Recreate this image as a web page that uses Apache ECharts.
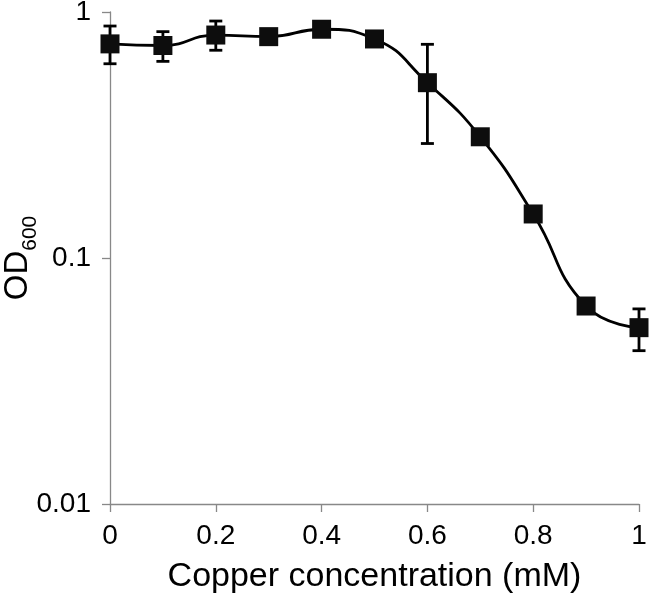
<!DOCTYPE html>
<html>
<head>
<meta charset="utf-8">
<script src="https://cdn.jsdelivr.net/npm/echarts@6/dist/echarts.min.js"></script>
<style>html,body{margin:0;padding:0;background:#fff;}#c{width:650px;height:599px;}</style>
</head>
<body>
<div id="c"></div>
<script>
var copper = [0, 0.1, 0.2, 0.3, 0.4, 0.5, 0.6, 0.7, 0.8, 0.9, 1.0];
var od600 = [0.742, 0.731, 0.806, 0.794, 0.851, 0.777, 0.516, 0.311, 0.151, 0.0638, 0.0521];
var errLow = [0.616, 0.630, 0.699, 0.760, 0.820, 0.750, 0.292, 0.300, 0.145, 0.061, 0.042];
var errHigh = [0.877, 0.832, 0.919, 0.830, 0.880, 0.805, 0.739, 0.322, 0.157, 0.0665, 0.0621];
var xTicks = [0, 0.2, 0.4, 0.6, 0.8, 1];
var yTicks = [0.01, 0.1, 1];

var FONT = 'Liberation Sans, Arial, sans-serif';
var lineData = copper.map(function (x, i) { return [x, od600[i]]; });
var errData = copper.map(function (x, i) { return [x, errLow[i], errHigh[i]]; });

var chart = echarts.init(document.getElementById('c'));
chart.setOption({
  backgroundColor: '#fff',
  animation: false,
  grid: { left: 110, right: 11, top: 12, bottom: 95, containLabel: false, outerBoundsMode: 'none' },
  xAxis: {
    type: 'value', min: 0, max: 1, interval: 0.2,
    name: 'Copper concentration (mM)', nameLocation: 'middle', nameGap: 56, nameMoveOverlap: false,
    nameTextStyle: { fontSize: 34, color: '#000', fontFamily: FONT },
    axisLine: { show: true, lineStyle: { color: '#888', width: 1.3 } },
    axisTick: { show: true, inside: false, length: 8, lineStyle: { color: '#888', width: 1.3 } },
    axisLabel: {
      fontSize: 28, color: '#000', fontFamily: FONT, margin: 18,
      formatter: function (v) { return xTicks.indexOf(Math.round(v * 10) / 10) >= 0 ? String(Math.round(v * 10) / 10) : ''; }
    },
    splitLine: { show: false }
  },
  yAxis: {
    type: 'log', logBase: 10, min: 0.01, max: 1,
    name: '{a|OD}{b|600}', nameLocation: 'middle', nameGap: 69, nameMoveOverlap: false,
    nameTextStyle: {
      fontFamily: FONT, color: '#000',
      rich: {
        a: { fontSize: 33, lineHeight: 46, fontFamily: FONT, color: '#000' },
        b: { fontSize: 21, lineHeight: 21, verticalAlign: 'bottom', fontFamily: FONT, color: '#000' }
      }
    },
    axisLine: { show: true, lineStyle: { color: '#888', width: 1.3 } },
    axisTick: { show: true, inside: false, length: 8, lineStyle: { color: '#888', width: 1.3 } },
    minorTick: { show: false },
    axisLabel: {
      fontSize: 28, color: '#000', fontFamily: FONT, margin: 19, showMaxLabel: true, showMinLabel: true,
      formatter: function (v) {
        for (var i = 0; i < yTicks.length; i++) { if (Math.abs(v - yTicks[i]) / yTicks[i] < 1e-6) return String(yTicks[i]); }
        return '';
      }
    },
    splitLine: { show: false }
  },
  series: [
    {
      type: 'custom',
      data: errData,
      z: 3,
      renderItem: function (params, api) {
        var x = api.value(0);
        var lo = api.coord([x, api.value(1)]);
        var hi = api.coord([x, api.value(2)]);
        var cap = 6.5;
        var style = { stroke: '#000', lineWidth: 2.8 };
        return {
          type: 'group',
          children: [
            { type: 'line', shape: { x1: lo[0], y1: lo[1], x2: hi[0], y2: hi[1] }, style: style },
            { type: 'line', shape: { x1: lo[0] - cap, y1: lo[1], x2: lo[0] + cap, y2: lo[1] }, style: style },
            { type: 'line', shape: { x1: hi[0] - cap, y1: hi[1], x2: hi[0] + cap, y2: hi[1] }, style: style }
          ]
        };
      }
    },
    {
      type: 'line',
      data: lineData,
      smooth: 0.5,
      z: 4,
      symbol: 'rect',
      symbolSize: 19,
      showAllSymbol: true,
      lineStyle: { color: '#000', width: 2.8 },
      itemStyle: { color: '#0d0d0d', borderWidth: 0 }
    }
  ]
});
</script>
</body>
</html>
